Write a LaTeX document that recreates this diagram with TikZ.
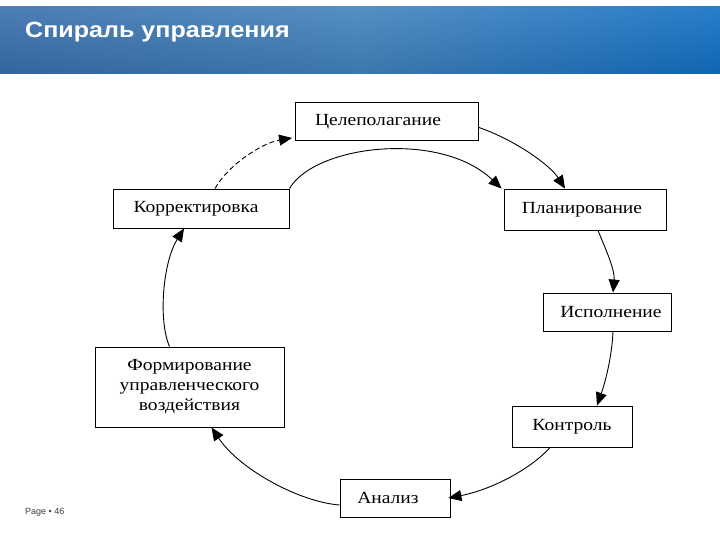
\documentclass[tikz,border=0pt]{standalone}
\usepackage{fontspec}
\setmainfont{Liberation Serif}
\newfontfamily\boxfont[FakeStretch=1.15]{Liberation Serif}
\newfontfamily\hdrfont[FakeStretch=1.14]{Liberation Sans}
\newfontfamily\pgfont{Liberation Sans}
\usetikzlibrary{arrows.meta}
\definecolor{hdrL}{RGB}{52,108,172}
\definecolor{hdrM}{RGB}{62,128,188}
\definecolor{hdrR}{RGB}{12,108,195}
\tikzset{
  stagebox/.style={draw=black, line width=0.9pt, fill=white, inner sep=0pt,
    font=\boxfont\fontsize{17}{20}\selectfont, align=center},
  flow/.style={draw=black, line width=0.9pt, -{Triangle[length=13pt,width=11pt]}},
}
\begin{document}
\begin{tikzpicture}[x=1pt,y=-1pt]
\useasboundingbox (0,0) rectangle (720,540);
\fill[white] (0,0) rectangle (720,540);
% header band
\shade[left color=hdrL, right color=hdrR, middle color=hdrM] (0,7) rectangle (720,74);
\shade[top color=white, bottom color=black!80, opacity=0.12] (0,7) rectangle (720,74);
\node[anchor=west, text=white, font=\hdrfont\bfseries\fontsize{22}{24}\selectfont, inner sep=0pt] (title) at (25,32) {Спираль управления};
\node[anchor=west, text=black!75, font=\pgfont\fontsize{9}{10}\selectfont, inner sep=0pt] (page) at (25,512) {Page \textbullet{} 46};
% stages
\node[stagebox, minimum width=183pt, minimum height=38pt] (cel) at (387,121.5) {\hspace*{-18pt}Целеполагание};
\node[stagebox, minimum width=176pt, minimum height=39pt] (korr) at (201,208.5) {\hspace*{-10pt}Корректировка};
\node[stagebox, minimum width=162pt, minimum height=41pt] (plan) at (585,209.5) {\hspace*{-6pt}Планирование};
\node[stagebox, minimum width=128pt, minimum height=38pt] (isp) at (607,312) {\hspace*{8pt}Исполнение};
\node[stagebox, minimum width=189pt, minimum height=80pt] (form) at (189.5,387) {Формирование\\управленческого\\воздействия};
\node[stagebox, minimum width=120pt, minimum height=41pt] (kontr) at (572,426.5) {Контроль};
\node[stagebox, minimum width=110pt, minimum height=38pt] (anal) at (395,498) {\hspace*{-14pt}Анализ};
% connectors
\draw[flow, dashed, dash pattern=on 5pt off 3pt] ([xshift=14pt]korr.north) .. controls (228,165) and (262,143) .. ([xshift=-3pt,yshift=3pt]cel.south west);
\draw[flow] (korr.north east) .. controls (315,145) and (440,130) .. ([xshift=-2pt]plan.north west);
\draw[flow] ([yshift=-6pt]cel.east) .. controls (515,140) and (550,165) .. ([xshift=-20pt]plan.north);
\draw[flow] ([xshift=13pt]plan.south) .. controls (606,250) and (615,270) .. ([xshift=6pt]isp.north);
\draw[flow] ([xshift=6pt]isp.south) .. controls (612,355) and (606,380) .. ([xshift=25pt]kontr.north);
\draw[flow] ([xshift=-22pt]kontr.south) .. controls (530,470) and (490,490) .. ([xshift=-2pt]anal.east);
\draw[flow] ([yshift=-7pt]anal.west) .. controls (300,502) and (240,470) .. ([xshift=22pt]form.south);
\draw[flow] ([xshift=-20pt]form.north) .. controls (158,320) and (163,262) .. ([xshift=-17pt]korr.south);
\end{tikzpicture}
\end{document}
